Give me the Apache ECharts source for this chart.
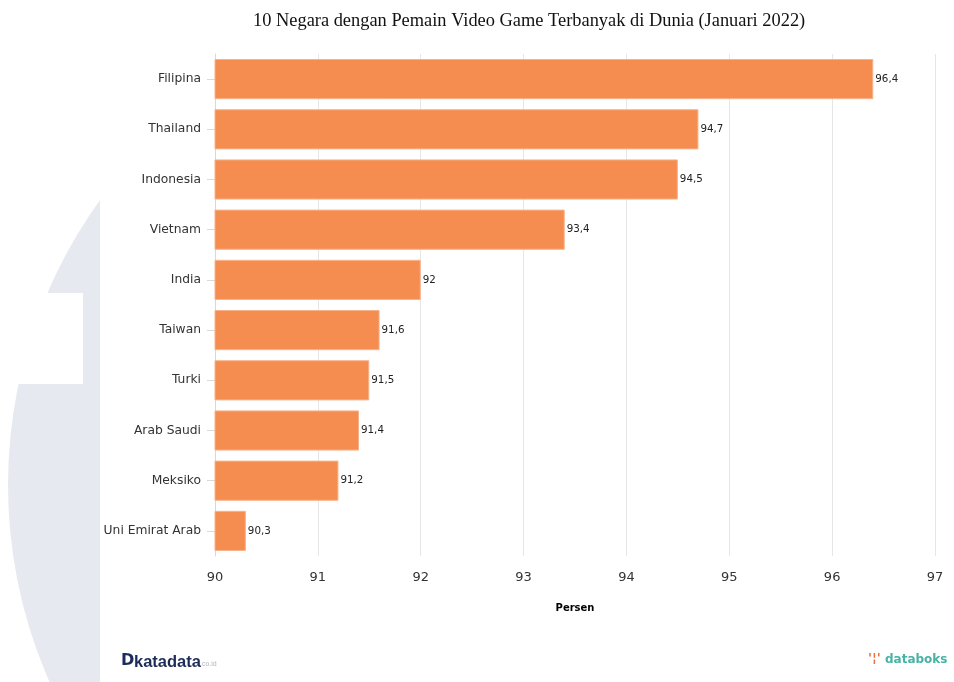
<!DOCTYPE html>
<html>
<head>
<meta charset="utf-8">
<script src="https://cdn.jsdelivr.net/npm/echarts@6/dist/echarts.min.js"></script>
<style>
  html, body { margin: 0; padding: 0; background: #ffffff; }
  #chart { width: 954px; height: 682px; }
</style>
</head>
<body>
<div id="chart"></div>
<script>
// Share of internet users (16-64) who play video games, January 2022
var countries = ['Filipina', 'Thailand', 'Indonesia', 'Vietnam', 'India', 'Taiwan', 'Turki', 'Arab Saudi', 'Meksiko', 'Uni Emirat Arab'];
var percentages = [96.4, 94.7, 94.5, 93.4, 92, 91.6, 91.5, 91.4, 91.2, 90.3];
var axisTicks = [90, 91, 92, 93, 94, 95, 96, 97];

var chart = echarts.init(document.getElementById('chart'), null, { renderer: 'canvas' });

function fmtComma(v) {
  return String(v).replace('.', ',');
}

chart.setOption({
  backgroundColor: '#ffffff',
  animation: false,
  title: {
    text: '10 Negara dengan Pemain Video Game Terbanyak di Dunia (Januari 2022)',
    left: 248,
    top: 7,
    textStyle: {
      fontFamily: 'Liberation Serif',
      fontSize: 18.4,
      fontWeight: 'normal',
      color: '#111'
    }
  },
  graphic: [
    // faint brand watermark on the left edge
    {
      type: 'circle', z: -10, silent: true,
      shape: { cx: 496, cy: 485, r: 488 },
      style: { fill: '#e6e9f0' }
    },
    {
      type: 'rect', z: -9, silent: true,
      shape: { x: 100, y: 0, width: 854, height: 682 },
      style: { fill: '#ffffff' }
    },
    {
      type: 'rect', z: -9, silent: true,
      shape: { x: 0, y: 293, width: 83, height: 91 },
      style: { fill: '#ffffff' }
    },
    // katadata logo
    {
      type: 'text', left: 121, top: 653, z: 10,
      style: { text: 'D', fontFamily: 'DejaVu Sans', fontWeight: 'bold', fontSize: 16, fill: '#1d2b5a' }
    },
    {
      type: 'text', left: 134, top: 654, z: 10,
      style: { text: 'katadata', fontFamily: 'Liberation Sans', fontWeight: 'bold', fontSize: 16.5, fill: '#1d2b5a' }
    },
    {
      type: 'text', left: 200, top: 661, z: 10,
      style: { text: '.co.id', fontFamily: 'Liberation Sans', fontSize: 7, fill: '#b0b4c0' }
    },
    // databoks logo
    {
      type: 'text', left: 868, top: 652, z: 10,
      style: { text: '\u0027\u00a6\u0027', fontFamily: 'DejaVu Sans', fontWeight: 'bold', fontSize: 13, fill: '#e8703a' }
    },
    {
      type: 'text', left: 885, top: 654, z: 10,
      style: { text: 'databoks', fontFamily: 'DejaVu Sans', fontWeight: 'bold', fontSize: 12, fill: '#45b3a6' }
    }
  ],
  grid: {
    left: 215,
    right: 19,
    top: 54,
    bottom: 126,
    containLabel: false
  },
  xAxis: {
    type: 'value',
    min: axisTicks[0],
    max: axisTicks[axisTicks.length - 1],
    interval: 1,
    name: 'Persen',
    nameLocation: 'middle',
    nameGap: 47,
    nameTextStyle: {
      fontFamily: 'DejaVu Sans',
      fontWeight: 'bold',
      fontSize: 10,
      color: '#000'
    },
    axisLine: { show: false },
    axisTick: { show: false },
    axisLabel: {
      margin: 15,
      fontFamily: 'DejaVu Sans',
      fontSize: 13,
      color: '#333'
    },
    splitLine: { show: true, lineStyle: { color: '#e6e6e6', width: 1 } }
  },
  yAxis: {
    type: 'category',
    data: countries,
    inverse: true,
    axisLine: { show: true, lineStyle: { color: '#d8d8d8' } },
    axisTick: { show: true, length: 8, alignWithLabel: true, lineStyle: { color: '#d8d8d8' } },
    axisLabel: {
      margin: 14,
      fontFamily: 'DejaVu Sans',
      fontSize: 12.3,
      color: '#333'
    },
    splitLine: { show: false }
  },
  series: [{
    type: 'bar',
    data: percentages,
    barCategoryGap: '20%',
    itemStyle: {
      color: '#f58d50',
      borderColor: '#f8b28a',
      borderWidth: 1
    },
    label: {
      show: true,
      position: 'right',
      distance: 2,
      fontFamily: 'DejaVu Sans',
      fontSize: 10.3,
      color: '#222',
      formatter: function (p) { return fmtComma(p.value); }
    }
  }]
});
</script>
</body>
</html>
